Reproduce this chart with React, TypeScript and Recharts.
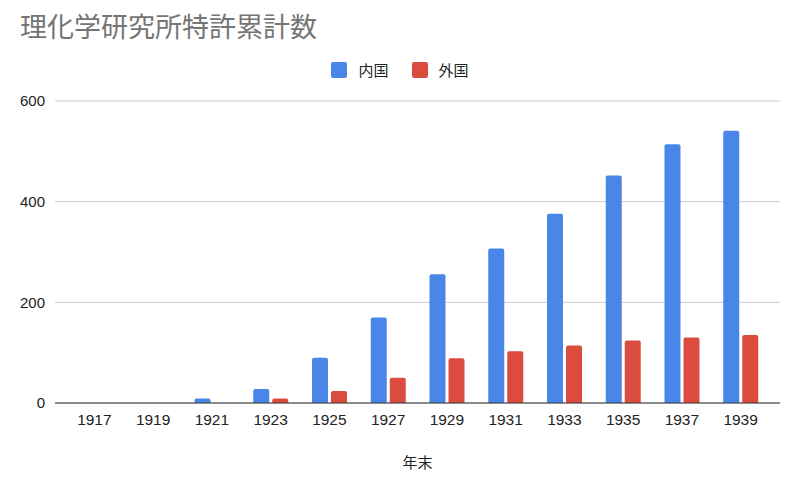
import React from "react";
import { BarChart, Bar, XAxis, YAxis, CartesianGrid, Legend } from "recharts";

const years = ["1917", "1919", "1921", "1923", "1925", "1927", "1929", "1931", "1933", "1935", "1937", "1939"];
const domestic = [0, 0, 9, 28, 90, 170, 256, 307, 376, 452, 514, 541];
const foreign = [0, 0, 0, 9, 24, 50, 89, 103, 114, 124, 130, 135];
const yTicks = [0, 200, 400, 600];

const title = "理化学研究所特許累計数";
const seriesNames = ["内国", "外国"];
const colors = ["#4a86e8", "#db4c3f"];
const xLabel = "年末";

const data = years.map((y, i) => ({ year: y, d: domestic[i], f: foreign[i] }));

const FONT = "Arial, 'Liberation Sans', 'Noto Sans CJK JP', sans-serif";

const LegendContent = () => (
  <div style={{ display: "flex", justifyContent: "center", alignItems: "center", fontFamily: FONT, fontSize: 15, color: "#222" }}>
    {seriesNames.map((n, i) => (
      <div key={n} style={{ display: "flex", alignItems: "center", marginLeft: i === 0 ? 0 : 23 }}>
        <div style={{ width: 16, height: 16, borderRadius: 2, background: colors[i], marginRight: 11 }} />
        <span>{n}</span>
      </div>
    ))}
  </div>
);

export default function App() {
  return (
    <div style={{ position: "absolute", left: 0, top: 0, width: 800, height: 482, background: "#fff" }}>
      <div style={{ position: "absolute", left: 20, top: 15, fontFamily: FONT, fontSize: 27, lineHeight: "27px", color: "#757575", whiteSpace: "nowrap" }}>
        {title}
      </div>
      <BarChart
        width={800}
        height={482}
        data={data}
        margin={{ top: 101, right: 20, left: 0, bottom: 0 }}
        barSize={16}
        barGap={3}
      >
        <CartesianGrid vertical={false} stroke="#cccccc" />
        <XAxis
          dataKey="year"
          height={79}
          padding={{ left: 10, right: 10 }}
          tickLine={false}
          tickMargin={5}
          axisLine={{ stroke: "#333333" }}
          tick={{ fill: "#222", fontSize: 15.5, fontFamily: FONT }}
          interval={0}
          label={{ value: xLabel, position: "insideBottom", offset: 14, fill: "#222", fontSize: 15, fontFamily: FONT }}
        />
        <YAxis
          width={55}
          domain={[0, 600]}
          ticks={yTicks}
          axisLine={false}
          tickLine={false}
          tickMargin={4}
          tick={{ fill: "#222", fontSize: 15, fontFamily: FONT }}
        />
        <Legend verticalAlign="middle" align="center" content={<LegendContent />} wrapperStyle={{ top: 59, left: 0, width: 800 }} />
        <Bar dataKey="d" name={seriesNames[0]} fill={colors[0]} radius={[2, 2, 0, 0]} isAnimationActive={false} />
        <Bar dataKey="f" name={seriesNames[1]} fill={colors[1]} radius={[2, 2, 0, 0]} isAnimationActive={false} />
      </BarChart>
    </div>
  );
}
